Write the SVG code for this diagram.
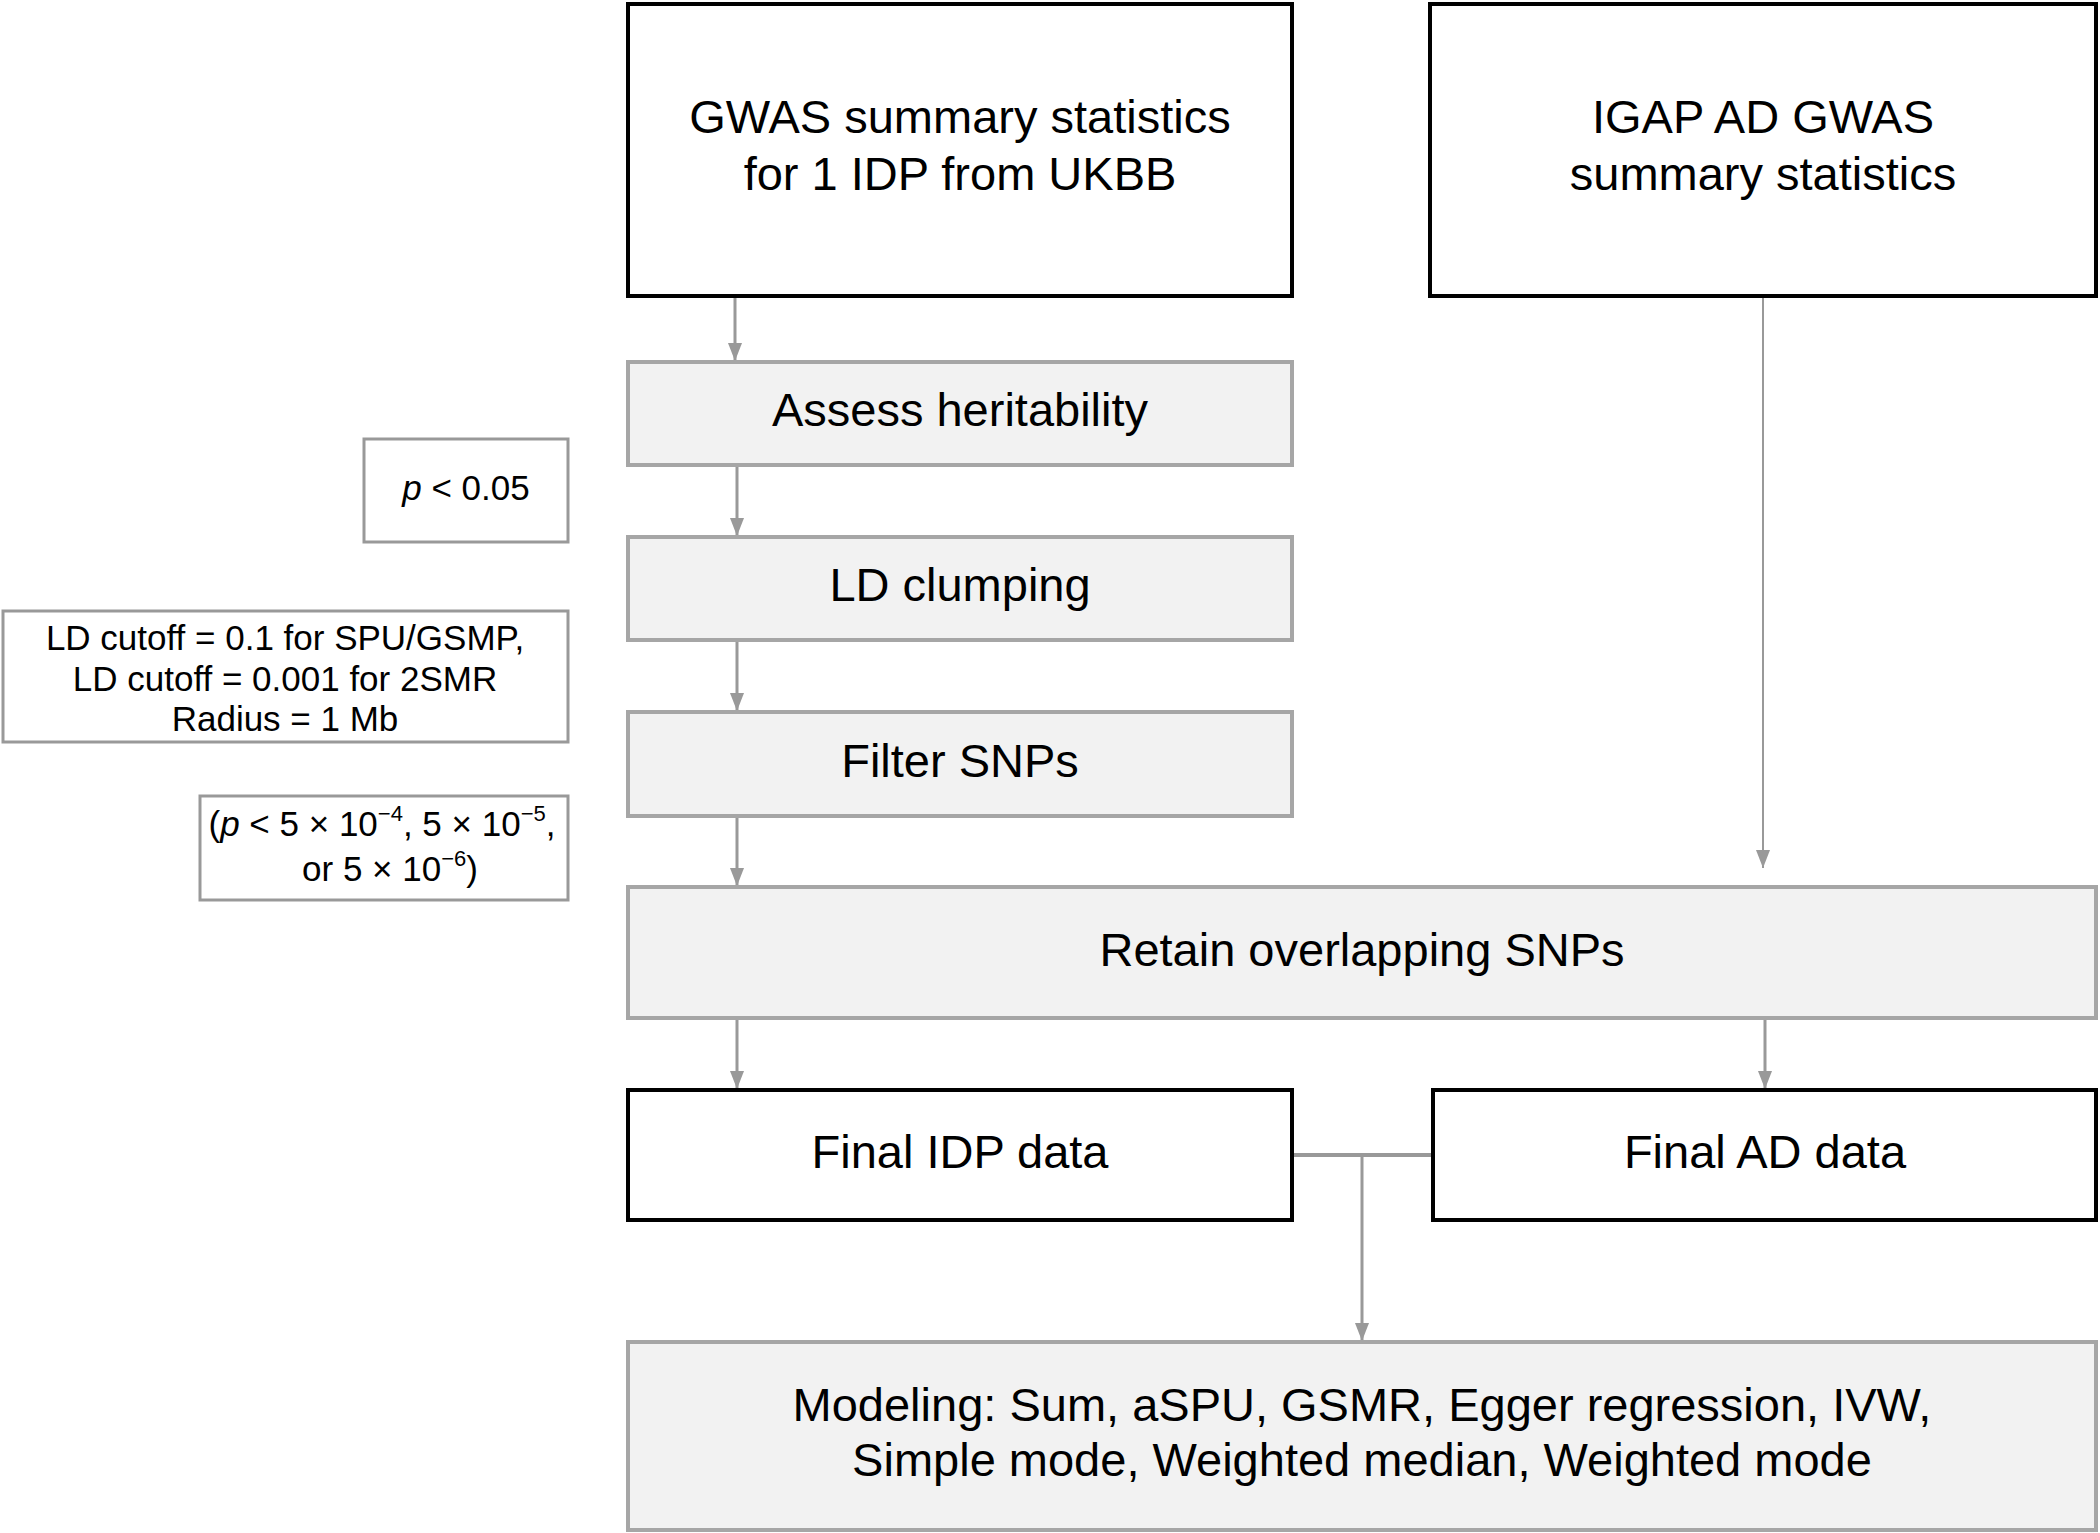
<svg xmlns="http://www.w3.org/2000/svg" width="2100" height="1533" viewBox="0 0 2100 1533">
<style>
.main{fill:#fff;stroke:#000;stroke-width:4}
.grey{fill:#f2f2f2;stroke:#a6a6a6;stroke-width:4}
.side{fill:#fff;stroke:#999;stroke-width:3}
.t{font-family:"Liberation Sans",Arial,Helvetica,sans-serif;font-size:47px;fill:#000;text-anchor:middle}
.s{font-family:"Liberation Sans",Arial,Helvetica,sans-serif;font-size:35px;fill:#000;text-anchor:middle}
.c{stroke:#999;stroke-width:3;fill:none}
</style>
<defs>
<marker id="arr" markerWidth="18" markerHeight="14" refX="18" refY="7" orient="auto" markerUnits="userSpaceOnUse" viewBox="0 0 18 14">
<path d="M0,0 L18,7 L0,14 Z" fill="#999"/>
</marker>
</defs>
<rect width="2100" height="1533" fill="#fff"/>
<g id="connectors">
<line class="c" x1="735" y1="298" x2="735" y2="361" marker-end="url(#arr)"/>
<line class="c" x1="737" y1="467" x2="737" y2="536" marker-end="url(#arr)"/>
<line class="c" x1="737" y1="642" x2="737" y2="711" marker-end="url(#arr)"/>
<line class="c" x1="737" y1="818" x2="737" y2="886" marker-end="url(#arr)"/>
<line class="c" x1="1763" y1="298" x2="1763" y2="868" style="stroke-width:2" marker-end="url(#arr)"/>
<line class="c" x1="737" y1="1020" x2="737" y2="1089" marker-end="url(#arr)"/>
<line class="c" x1="1765" y1="1020" x2="1765" y2="1089" marker-end="url(#arr)"/>
<line class="c" x1="1292" y1="1155" x2="1433" y2="1155" style="stroke-width:4"/>
<line class="c" x1="1362" y1="1155" x2="1362" y2="1341" marker-end="url(#arr)"/>
</g>
<g id="gwas">
<rect class="main" x="628" y="4" width="664" height="292"/>
<text class="t" x="960" y="133">GWAS summary statistics</text>
<text class="t" x="960" y="190">for 1 IDP from UKBB</text>
</g>
<g id="igap">
<rect class="main" x="1430" y="4" width="666" height="292"/>
<text class="t" x="1763" y="133">IGAP AD GWAS</text>
<text class="t" x="1763" y="190">summary statistics</text>
</g>
<g id="assess">
<rect class="grey" x="628" y="362" width="664" height="103"/>
<text class="t" x="960" y="426">Assess heritability</text>
</g>
<g id="ldclump">
<rect class="grey" x="628" y="537" width="664" height="103"/>
<text class="t" x="960" y="601">LD clumping</text>
</g>
<g id="filter">
<rect class="grey" x="628" y="712" width="664" height="104"/>
<text class="t" x="960" y="777">Filter SNPs</text>
</g>
<g id="retain">
<rect class="grey" x="628" y="887" width="1468" height="131"/>
<text class="t" x="1362" y="966">Retain overlapping SNPs</text>
</g>
<g id="finalidp">
<rect class="main" x="628" y="1090" width="664" height="130"/>
<text class="t" x="960" y="1168">Final IDP data</text>
</g>
<g id="finalad">
<rect class="main" x="1433" y="1090" width="663" height="130"/>
<text class="t" x="1765" y="1168">Final AD data</text>
</g>
<g id="modeling">
<rect class="grey" x="628" y="1342" width="1468" height="188"/>
<text class="t" x="1362" y="1421">Modeling: Sum, aSPU, GSMR, Egger regression, IVW,</text>
<text class="t" x="1362" y="1476">Simple mode, Weighted median, Weighted mode</text>
</g>
<g id="note-p005">
<rect class="side" x="364" y="439" width="204" height="103"/>
<text class="s" x="466" y="500"><tspan font-style="italic">p</tspan> &lt; 0.05</text>
</g>
<g id="note-ld">
<rect class="side" x="3" y="611" width="565" height="131"/>
<text class="s" x="285" y="650">LD cutoff = 0.1 for SPU/GSMP,</text>
<text class="s" x="285" y="691">LD cutoff = 0.001 for 2SMR</text>
<text class="s" x="285" y="731">Radius = 1 Mb</text>
</g>
<g id="note-pthr">
<rect class="side" x="200" y="796" width="368" height="104"/>
<text class="s" x="382" y="836">(<tspan font-style="italic">p</tspan> &lt; 5 × 10<tspan font-size="22" dy="-15">−4</tspan><tspan dy="15">, 5 × 10</tspan><tspan font-size="22" dy="-15">−5</tspan><tspan dy="15">,</tspan></text>
<text class="s" x="390" y="881">or 5 × 10<tspan font-size="22" dy="-15">−6</tspan><tspan dy="15">)</tspan></text>
</g>
</svg>
